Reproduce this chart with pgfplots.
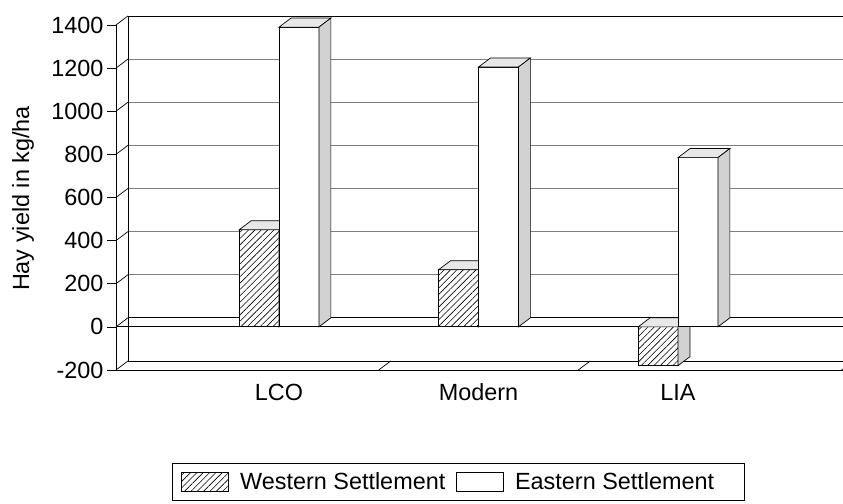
\documentclass[border=0pt]{standalone}
\usepackage{fontspec}
\setmainfont{Liberation Sans}
\usepackage{pgfplots}
\pgfplotsset{compat=1.18}
\usepackage{pgfplotstable}
\usetikzlibrary{patterns.meta}

% Hay yield (kg/ha) for the two Norse settlements in three climate periods
\pgfplotstableread{
x  W     E
0  450   1390
1  265   1205
2  -180  785
}\hay

% depth of the pseudo-3D look, in axis units
\def\dx{0.06}
\def\dy{42}
\def\bw{0.2}

\tikzset{
  westbar/.style={draw=black, line width=0.8bp, fill=white,
    postaction={pattern={Lines[angle=45,distance=4.5bp,line width=0.6bp]}}},
  eastbar/.style={draw=black, line width=0.8bp, fill=white},
  topface/.style={draw=black, line width=0.7bp, fill=gray!18},
  sideface/.style={draw=black, line width=0.7bp, fill=gray!35},
  backgrid/.style={black!50, line width=0.6bp},
  backline/.style={black, line width=0.8bp},
}

% top and side faces of one bar: #1 left edge of front face, #2 value
\newcommand\barfaces[2]{%
  \pgfmathsetmacro\xa{#1}%
  \pgfmathsetmacro\xb{#1+\bw}%
  \pgfmathsetmacro\xaa{#1+\dx}%
  \pgfmathsetmacro\xbb{#1+\bw+\dx}%
  \pgfmathsetmacro\lo{min(#2,0)}%
  \pgfmathsetmacro\hi{max(#2,0)}%
  \pgfmathsetmacro\loo{\lo+\dy}%
  \pgfmathsetmacro\hii{\hi+\dy}%
  \edef\tmp{%
    \noexpand\addplot[topface, forget plot] coordinates {(\xa,\hi) (\xaa,\hii) (\xbb,\hii) (\xb,\hi)} -- cycle;
    \noexpand\addplot[sideface, forget plot] coordinates {(\xb,\lo) (\xbb,\loo) (\xbb,\hii) (\xb,\hi)} -- cycle;
  }\tmp
}

\begin{document}
\begin{tikzpicture}
\useasboundingbox (0,0) rectangle (843bp,504bp);
\begin{axis}[
  at={(116bp,134bp)}, anchor=south west,
  scale only axis, width=731.6bp, height=345bp,
  xmin=-0.817, xmax=2.85, ymin=-200, ymax=1400,
  clip=false, no markers,
  axis x line=bottom, axis y line=left,
  axis line style={-, line width=0.8bp},
  xtick={0,1,2}, xticklabels={LCO,Modern,LIA},
  x tick style={draw=none},
  extra x ticks={0.5,1.5,2.82}, extra x tick labels={},
  extra x tick style={tick align=outside, major tick length=7bp, tick style={black, line width=0.7bp}},
  ytick={-200,0,...,1400},
  y tick style={black, line width=0.7bp},
  tick align=outside, major tick length=9bp,
  /pgf/number format/assume math mode=true,
  /pgf/number format/1000 sep={},
  every tick label/.append style={font=\fontsize{23.5}{27}\selectfont},
  xticklabel style={yshift=-1bp, text height=16.8bp, text depth=0bp},
  ylabel={Hay yield in kg/ha},
  ylabel style={at={(axis description cs:-0.127,0.497)}, anchor=center,
    font=\fontsize{23.5}{27}\selectfont},
  legend style={at={(axis description cs:0.0765,-0.2696)}, anchor=north west,
    draw=black, line width=0.8bp, font=\fontsize{23.5}{27}\selectfont,
    inner xsep=9bp, inner ysep=7.5bp,
    /tikz/every odd column/.append style={column sep=9bp},
    /tikz/every even column/.append style={column sep=9bp}},
  legend columns=2,
  legend image code/.code={\draw[#1] (0bp,-9.5bp) rectangle (47bp,9.5bp);},
]
% back wall grid
\pgfplotsinvokeforeach{200,400,600,800,1000,1200}{
  \draw[backgrid] (axis cs:-0.757,#1+42) -- (axis cs:2.91,#1+42);
}
\draw[backline] (axis cs:-0.757,-158) -- (axis cs:2.91,-158);
\draw[backline] (axis cs:-0.757,42) -- (axis cs:2.91,42);
\draw[backline] (axis cs:-0.757,1442) -- (axis cs:2.91,1442);
\draw[backline] (axis cs:-0.757,-158) -- (axis cs:-0.757,1442);
% depth stubs from the front ticks to the back wall
\pgfplotsinvokeforeach{-200,0,200,400,600,800,1000,1200,1400}{
  \draw[backline, line width=0.7bp] (axis cs:-0.817,#1) -- (axis cs:-0.757,#1+42);
}
\pgfplotsinvokeforeach{0.5,1.5,2.82}{
  \draw[backline, line width=0.7bp] (axis cs:#1,-200) -- (axis cs:#1+0.06,-158);
}
% front floor line at zero
\draw[backline] (axis cs:-0.817,0) -- (axis cs:2.85,0);

% Western Settlement
\addplot[ybar, bar width=0.2, bar shift=-0.1, westbar] table[x=x, y=W] {\hay};
\addlegendentry{Western Settlement}
\pgfplotsinvokeforeach{0,1,2}{
  \pgfplotstablegetelem{#1}{W}\of\hay \let\myval\pgfplotsretval
  \barfaces{#1-0.2}{\myval}
}
% Eastern Settlement
\addplot[ybar, bar width=0.2, bar shift=0.1, eastbar] table[x=x, y=E] {\hay};
\addlegendentry{Eastern Settlement\rule{19bp}{0pt}}
\pgfplotsinvokeforeach{0,1,2}{
  \pgfplotstablegetelem{#1}{E}\of\hay \let\myval\pgfplotsretval
  \barfaces{#1}{\myval}
}
\end{axis}
\end{tikzpicture}
\end{document}
